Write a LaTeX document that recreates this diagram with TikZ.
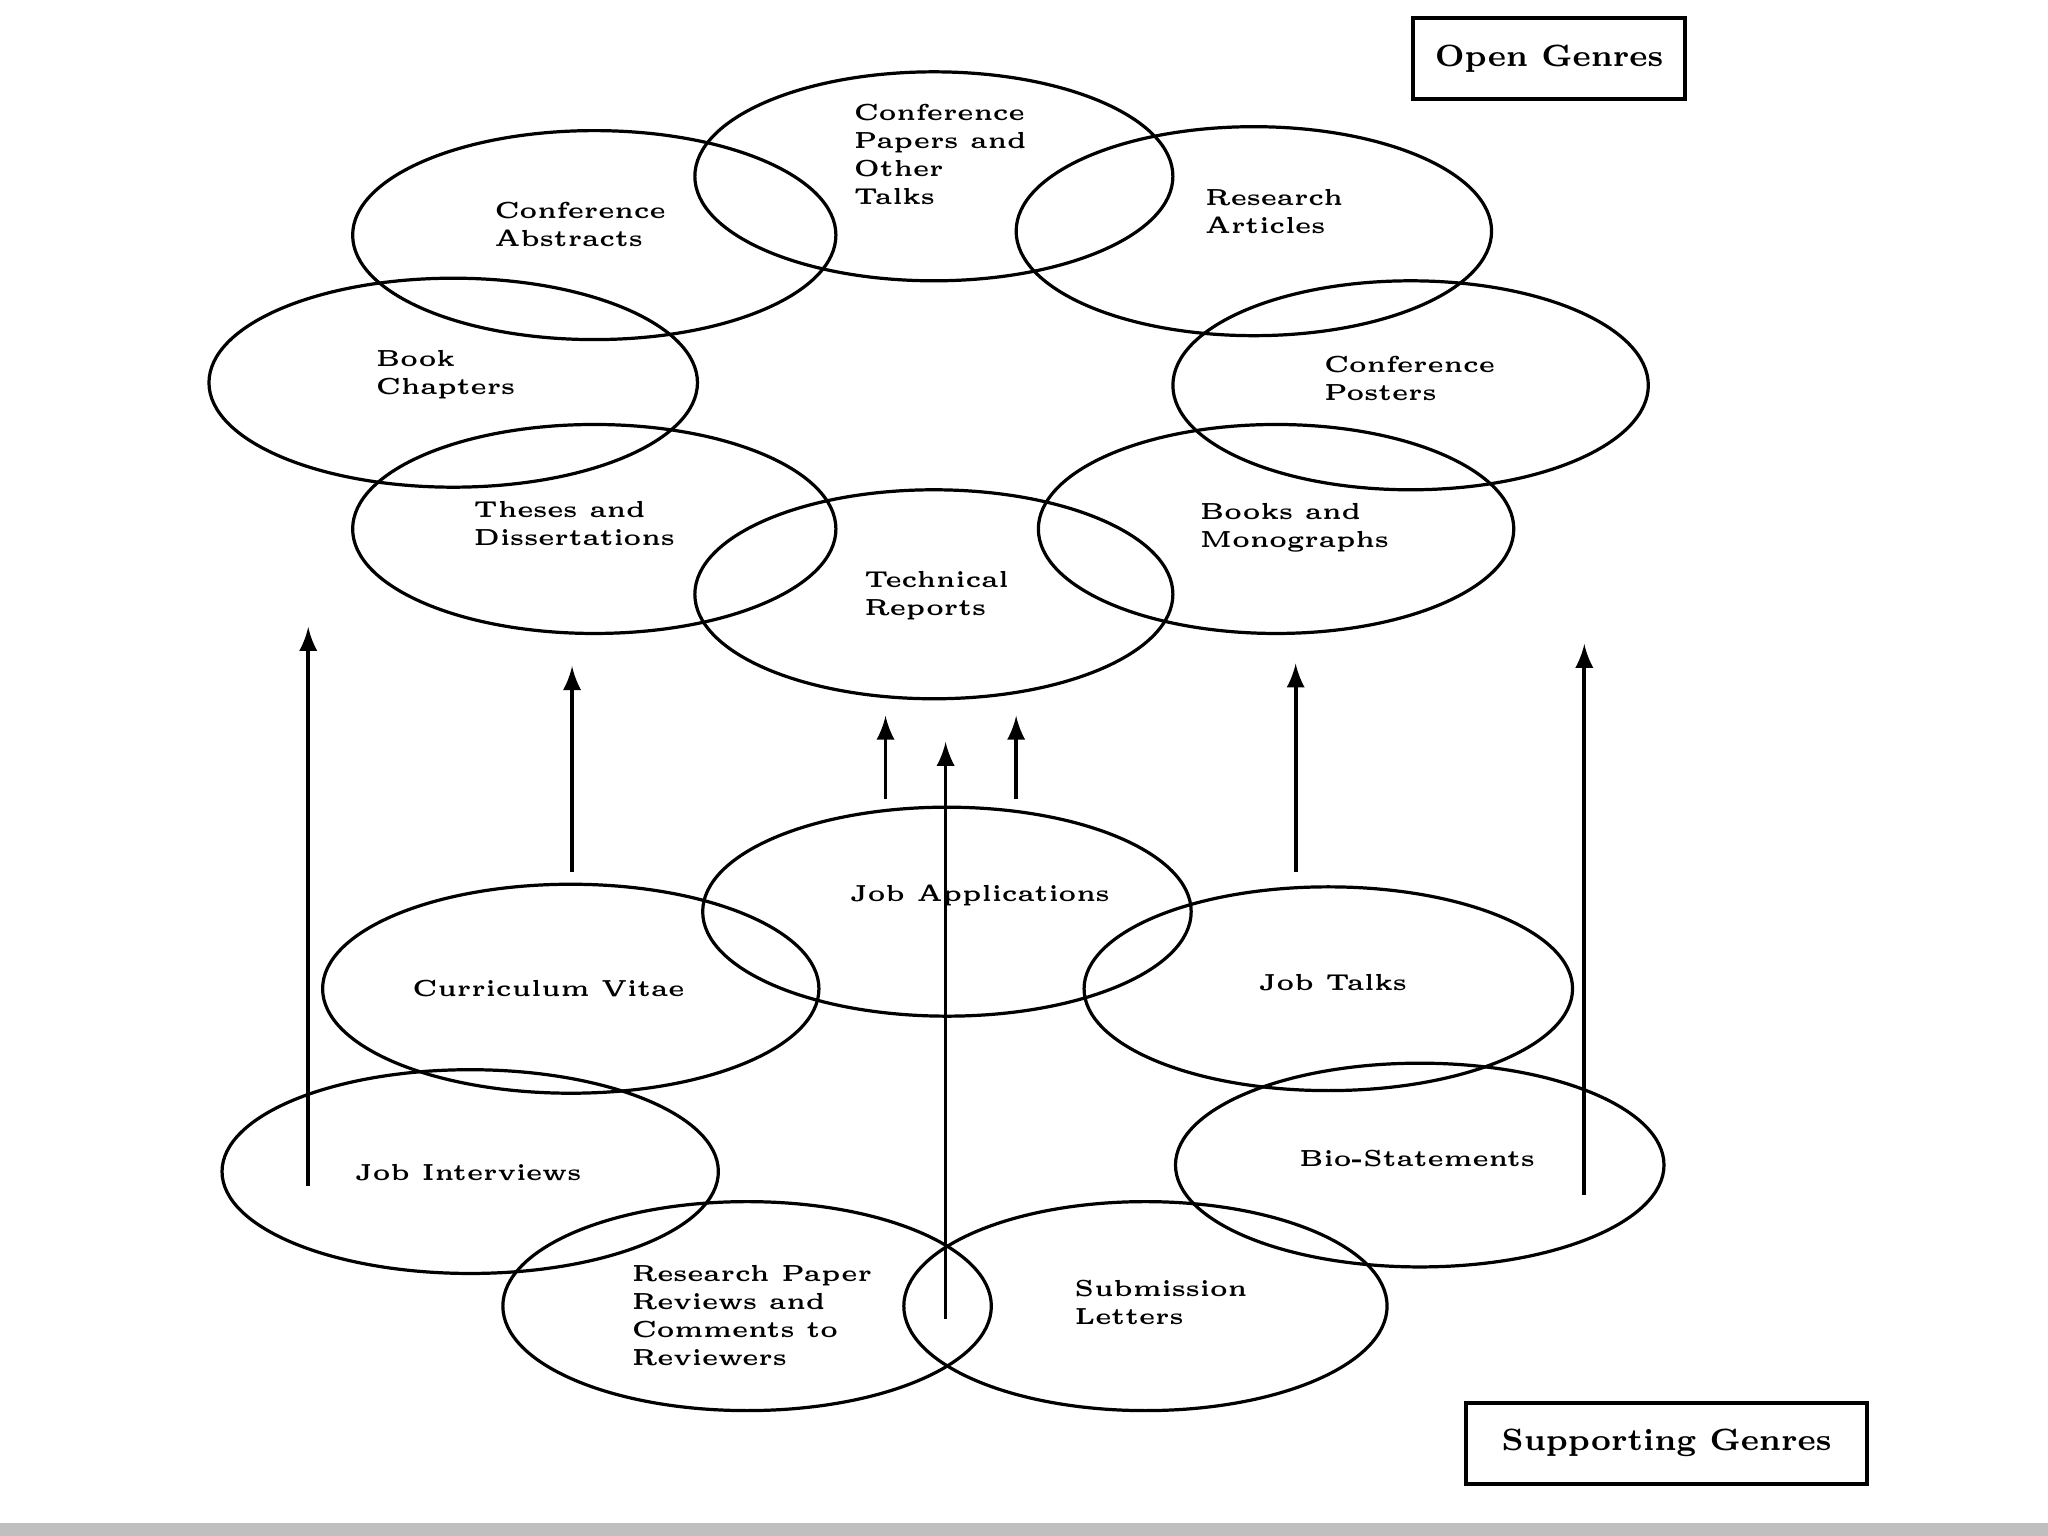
\documentclass[tikz,border=0pt]{standalone}
\begin{document}
\begin{tikzpicture}[x=0.01cm,y=-0.01cm,
  lbl/.style={anchor=west,align=left,font=\fontsize{5.05}{6.1}\selectfont\bfseries,inner sep=0pt},
  gbox/.style={draw,line width=0.8pt,minimum width=#1,minimum height=0.62cm,font=\fontsize{6.7}{8}\selectfont\bfseries},
  arr/.style={-latex,line width=0.8pt}]
\useasboundingbox (0,0) rectangle (1568,1176);
\fill[black!25] (0,1166) rectangle (1568,1176);
\foreach \n/\cx/\cy/\rx/\ry in {cp/715/135/183/80, ca/455/180/185/80, ra/960/177/182/80, bc/347/293/187/80, cpo/1080/295/182/80, th/455/405/185/80, bm/977/405/182/80, tr/715/455/183/80, ja/725/698/187/80, cv/437/757/190/80, jt/1017/757/187/78, ji/360/897/190/78, bs/1087/892/187/78, rp/572/1000/187/80, sl/877/1000/185/80}
  \draw[line width=0.7pt] (\cx,\cy) ellipse [x radius=\rx*0.01cm, y radius=\ry*0.01cm];
\node[lbl] (tcp) at (653,118) {Conference\\Papers and\\Other\\Talks};
\node[lbl] (tca) at (378,172) {Conference\\Abstracts};
\node[lbl] (tra) at (922,162) {Research\\Articles};
\node[lbl] (tbc) at (287,287) {Book\\Chapters};
\node[lbl] (tcpo) at (1013,290) {Conference\\Posters};
\node[lbl] (tth) at (362,401) {Theses and\\Dissertations};
\node[lbl] (tbm) at (918,404) {Books and\\Monographs};
\node[lbl] (ttr) at (661,456) {Technical\\Reports};
\node[lbl] (tja) at (650,686) {Job Applications};
\node[lbl] (tcv) at (315,757) {Curriculum Vitae};
\node[lbl] (tjt) at (963,752) {Job Talks};
\node[lbl] (tji) at (271,898) {Job Interviews};
\node[lbl] (tbs) at (994,887) {Bio-Statements};
\node[lbl] (trp) at (483,1007) {Research Paper\\Reviews and\\Comments to\\Reviewers};
\node[lbl] (tsl) at (822,997) {Submission\\Letters};
\node[gbox=2.08cm] (og) at (1186,45) {Open Genres};
\node[gbox=3.07cm] (sg) at (1276,1105) {Supporting Genres};
\foreach \i/\x/\ya/\yb in {1/236/908/480, 2/438/668/510, 3/678/612/548, 4/724/1010/568, 5/778/612/548, 6/992/668/508, 7/1213/915/493}{
  \coordinate (s\i) at (\x,\ya);
  \coordinate (e\i) at (\x,\yb);
  \draw[arr] (s\i) -- (e\i);
}
\end{tikzpicture}
\end{document}
